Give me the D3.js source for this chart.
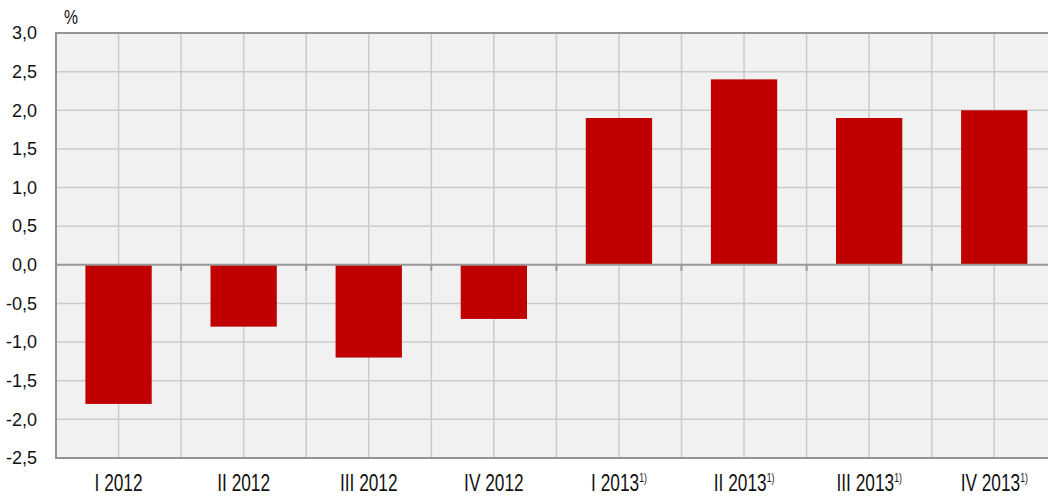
<!DOCTYPE html>
<html>
<head>
<meta charset="utf-8">
<script src="https://cdn.jsdelivr.net/npm/d3@7"></script>
<style>
  body { margin: 0; background: #fff; overflow: hidden; }
  svg { display: block; }
</style>
</head>
<body>
<script>
// quarterly change, %
var quarters = ["I 2012", "II 2012", "III 2012", "IV 2012", "I 2013", "II 2013", "III 2013", "IV 2013"];
var footnote = [false, false, false, false, true, true, true, true];
var values = [-1.8, -0.8, -1.2, -0.7, 1.9, 2.4, 1.9, 2.0];
var yTicks = [-2.5, -2.0, -1.5, -1.0, -0.5, 0.0, 0.5, 1.0, 1.5, 2.0, 2.5, 3.0];

var totalWidth = 1048;
var totalHeight = 501;

// note: "top" is taken by window.top, so plot* names
var plotLeft = 56, plotTop = 33, plotBottom = 458;
var step = 125.1;
var plotRight = plotLeft + step * quarters.length;   // runs past the window edge, like the original

var svg = d3.select("body").append("svg")
    .attr("width", totalWidth)
    .attr("height", totalHeight);

var x = d3.scaleBand()
    .domain(quarters)
    .range([plotLeft, plotRight])
    .paddingInner(0.47)
    .paddingOuter(0.235);

var y = d3.scaleLinear()
    .domain([-2.5, 3.0])
    .range([plotBottom, plotTop]);

// comma decimals, plain hyphen for minus
var fmt = function(d) { return d3.format(".1f")(d).replace(".", ",").replace("\u2212", "-"); };

// plot background
svg.append("rect")
    .attr("x", plotLeft).attr("y", plotTop)
    .attr("width", plotRight - plotLeft).attr("height", plotBottom - plotTop)
    .attr("fill", "#f1f1f1");

// vertical grid: band edges and centres
var vLines = [];
quarters.forEach(function(q) {
    vLines.push(x(q) - x.step() * x.paddingInner() / 2);
    vLines.push(x(q) + x.bandwidth() / 2);
});
svg.append("g").selectAll("line")
    .data(vLines)
    .join("line")
    .attr("x1", function(d) { return d; }).attr("x2", function(d) { return d; })
    .attr("y1", plotTop).attr("y2", plotBottom)
    .attr("stroke", "#cbcbcb")
    .attr("stroke-width", 1.5);

// horizontal grid
svg.append("g").selectAll("line")
    .data(yTicks)
    .join("line")
    .attr("x1", plotLeft).attr("x2", plotRight)
    .attr("y1", function(d) { return y(d); }).attr("y2", function(d) { return y(d); })
    .attr("stroke", "#cbcbcb")
    .attr("stroke-width", 1.5);

// bars
svg.append("g").selectAll("rect")
    .data(values)
    .join("rect")
    .attr("x", function(d, i) { return x(quarters[i]); })
    .attr("width", x.bandwidth())
    .attr("y", function(d) { return y(Math.max(0, d)); })
    .attr("height", function(d) { return Math.abs(y(d) - y(0)); })
    .attr("fill", "#c00000");

// frame
svg.append("line")
    .attr("x1", plotLeft).attr("x2", plotRight).attr("y1", plotTop).attr("y2", plotTop)
    .attr("stroke", "#949494").attr("stroke-width", 2);
svg.append("line")
    .attr("x1", plotLeft).attr("x2", plotRight).attr("y1", plotBottom).attr("y2", plotBottom)
    .attr("stroke", "#949494").attr("stroke-width", 2);
svg.append("line")
    .attr("x1", plotLeft).attr("x2", plotLeft).attr("y1", plotTop - 1).attr("y2", plotBottom + 1)
    .attr("stroke", "#949494").attr("stroke-width", 2);

// zero axis with ticks at category boundaries
var zeroAxis = svg.append("g")
    .attr("transform", "translate(0," + y(0) + ")");
zeroAxis.append("line")
    .attr("x1", plotLeft).attr("x2", plotRight)
    .attr("stroke", "#9a9a9a").attr("stroke-width", 2);
zeroAxis.selectAll(".tk")
    .data(vLines.filter(function(d, i) { return i % 2 === 0 && i > 0; }))
    .join("line")
    .attr("class", "tk")
    .attr("x1", function(d) { return d; }).attr("x2", function(d) { return d; })
    .attr("y1", 0).attr("y2", 6)
    .attr("stroke", "#9a9a9a").attr("stroke-width", 2);

// y tick labels
svg.append("g").selectAll("text")
    .data(yTicks)
    .join("text")
    .attr("x", 37)
    .attr("y", function(d) { return y(d); })
    .attr("dy", "0.35em")
    .attr("text-anchor", "end")
    .attr("font-family", "Liberation Sans, Arial, sans-serif")
    .attr("font-size", 18)
    .attr("fill", "#111")
    .text(fmt);

// x labels
var xl = svg.append("g").selectAll("text")
    .data(quarters)
    .join("text")
    .attr("transform", function(d) {
        return "translate(" + (x(d) + x.bandwidth() / 2) + ",491) scale(0.72,1)";
    })
    .attr("text-anchor", "middle")
    .attr("font-family", "Liberation Sans, Arial, sans-serif")
    .attr("font-size", 24)
    .attr("fill", "#111");
xl.append("tspan").text(function(d) { return d; });
xl.filter(function(d, i) { return footnote[i]; })
    .append("tspan")
    .attr("font-size", 12)
    .attr("dy", -9)
    .text("1)");

// unit
svg.append("text")
    .attr("transform", "translate(71,24) scale(0.75,1)")
    .attr("text-anchor", "middle")
    .attr("font-family", "Liberation Sans, Arial, sans-serif")
    .attr("font-size", 21)
    .attr("fill", "#111")
    .text("%");
</script>
</body>
</html>
